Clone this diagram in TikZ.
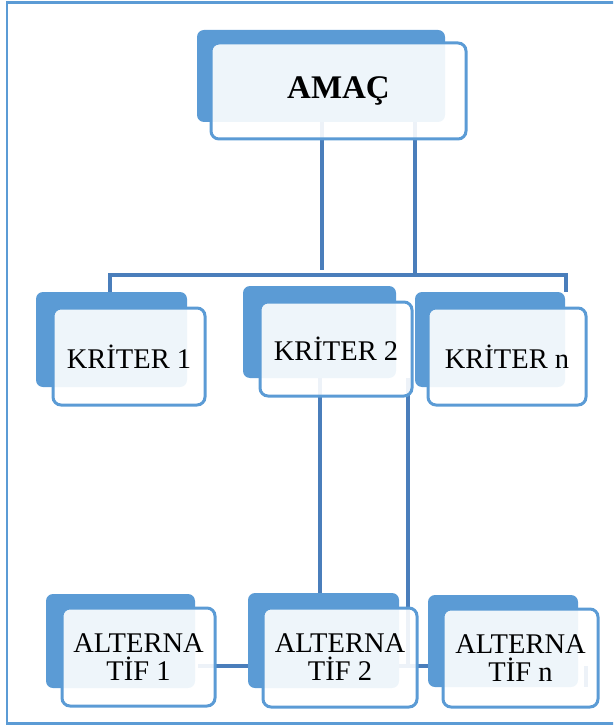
\documentclass[tikz,border=0pt]{standalone}
\usepackage{fontspec}
\setmainfont{Liberation Serif}
\usetikzlibrary{backgrounds}
\definecolor{blu}{HTML}{5B9BD5}
\definecolor{lin}{HTML}{4A7EBB}
\tikzset{
  backbox/.style={fill=blu, rounded corners=7pt, inner sep=0pt, outer sep=0pt},
  frontbox/.style={draw=blu, line width=3pt, fill=white, fill opacity=0.9, text opacity=1,
    rounded corners=8pt, inner sep=0pt, outer sep=0pt, align=center,
    font=\fontsize{28.5}{28}\selectfont},
  conn/.style={draw=lin, line width=3.4pt},
  frame/.style={draw=blu, line width=2.5pt}
}
\begin{document}
\begin{tikzpicture}[x=1pt,y=-1pt]
\useasboundingbox (0,0) rectangle (613,727);
\clip (0,0) rectangle (613,727);
\draw[frame] (7,2.5) rectangle (640,723.5);
\node[backbox, minimum width=248pt, minimum height=92pt] (amacb) at (321,76) {};
\node[frontbox, minimum width=255pt, minimum height=96pt, font=\fontsize{33}{34}\selectfont\bfseries] (amacf) at (338.5,91) {AMAÇ};
\node[backbox, minimum width=151pt, minimum height=95pt] (k1b) at (111.5,339.5) {};
\node[frontbox, minimum width=152pt, minimum height=97pt] (k1f) at (129,356.5) {KRİTER 1};
\node[backbox, minimum width=153pt, minimum height=92pt] (k2b) at (319.5,332) {};
\node[frontbox, minimum width=152pt, minimum height=94pt] (k2f) at (336,349) {KRİTER 2};
\node[backbox, minimum width=150pt, minimum height=95pt] (knb) at (490,339.5) {};
\node[frontbox, minimum width=158pt, minimum height=97pt] (knf) at (507,356.5) {KRİTER n};
\node[backbox, minimum width=149pt, minimum height=94pt] (a1b) at (120.5,641) {};
\node[frontbox, minimum width=153pt, minimum height=98pt] (a1f) at (138.5,657) {ALTERNA\\TİF 1};
\node[backbox, minimum width=151pt, minimum height=95pt] (a2b) at (323.5,640.5) {};
\node[frontbox, minimum width=154pt, minimum height=99pt] (a2f) at (340,657.5) {ALTERNA\\TİF 2};
\node[backbox, minimum width=150pt, minimum height=92pt] (anb) at (503,641) {};
\node[frontbox, minimum width=155pt, minimum height=98pt] (anf) at (520.5,658) {ALTERNA\\TİF n};
\coordinate (barL) at (110,275);
\coordinate (barR) at (566,275);
\coordinate (bar1) at (322,275);
\coordinate (bar2) at (415,275);
\coordinate (v1) at (320,0);
\coordinate (v2) at (408,666);
\coordinate (h1) at (198,666);
\coordinate (t1) at (586,666);
\coordinate (t2) at (586,687);
\begin{pgfonlayer}{background}
\draw[conn] (amacb.south -| bar1) -- ([yshift=5pt]bar1);
\draw[conn] (amacb.south -| bar2) -- (bar2);
\draw[conn] (barL |- k1b.north) -- (barL) -- (barR) -- (barR |- knb.north);
\draw[conn] (k2b.south -| v1) -- (a2b.north -| v1);
\draw[conn] (k2b.south -| v2) -- (v2);
\draw[conn] (h1) -- (h1 -| anb.center);
\draw[conn] (t1) -- (t2);
\end{pgfonlayer}
\end{tikzpicture}
\end{document}
